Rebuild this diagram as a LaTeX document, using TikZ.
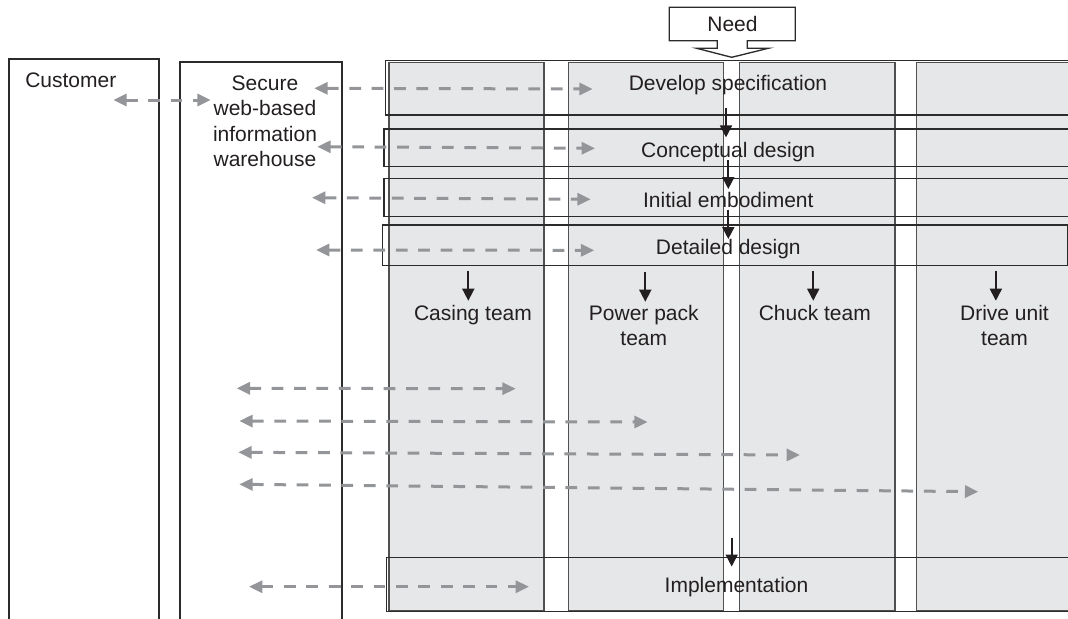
\documentclass[tikz,border=0pt]{standalone}
\usepackage{fontspec}
\setmainfont{Liberation Sans}
\usetikzlibrary{arrows.meta,fit}

\definecolor{inkgrey}{RGB}{35,31,32}
\definecolor{framegrey}{RGB}{43,43,43}
\definecolor{colgrey}{RGB}{80,80,80}
\definecolor{teamfill}{RGB}{230,231,232}
\definecolor{linkgrey}{RGB}{147,149,152}

\begin{document}
\begin{tikzpicture}[x=0.75pt,y=-0.75pt,
	every node/.style={inner sep=0pt,text=inkgrey,font=\fontsize{15.75pt}{19pt}\selectfont},
	column/.style={draw=colgrey,line width=1pt,fill=teamfill},
	stagebox/.style={draw=framegrey,line width=1.1pt},
	party/.style={draw=framegrey,line width=1.4pt},
	flow/.style={draw=inkgrey,line width=1.25pt,-{Triangle[length=9pt,width=9pt]}},
	link/.style={draw=linkgrey,line width=2.25pt,dash pattern=on 8.8pt off 8pt,{Triangle[length=10pt,width=9pt]}-{Triangle[length=10pt,width=9pt]}}]
	\useasboundingbox (0,0) rectangle (1068,618);
	\clip (0,0) rectangle (1068,618);

	\node[column,fit={(389,62.7) (544,611)}] (casecol) {};
	\node[column,fit={(568.3,62.7) (723.3,611)}] (powercol) {};
	\node[column,fit={(739.3,62.7) (895,611)}] (chuckcol) {};
	\node[column,fit={(916.7,62.7) (1075,611)}] (drivecol) {};

	\node[party,fit={(9,59) (159,640)}] (customerbox) {};
	\node[party,fit={(180,61.7) (341.7,640)}] (warehousebox) {};

	\node[stagebox,fit={(385.7,60.7) (1075,115)}] (spec) {};
	\node[stagebox,fit={(384,129) (1075,166.7)}] (concept) {};
	\node[stagebox,fit={(384,178.3) (1075,216.3)}] (embod) {};
	\node[stagebox,fit={(382.3,225) (1067.3,265.7)}] (detail) {};
	\node[stagebox,fit={(386.7,557.3) (1075,611.3)}] (impl) {};

	\draw[stagebox,line width=1pt,fill=white] (669.3,7.3) -- (795.3,7.3) -- (795.3,40.7) -- (747.3,40.7) -- (747.3,48.3) -- (768.3,48.3) -- (731.7,57.3) -- (696.7,48.3) -- (717.3,48.3) -- (717.3,40.7) -- (669.3,40.7) -- cycle;
	\node[anchor=base] (need) at (732.5,31.7) {Need};

	\node[anchor=base west] (customer) at (25,87.5) {Customer};
	\node[anchor=north,align=center] (warehouse) at (265,75.4) {Secure\\web-based\\information\\warehouse};

	\node[anchor=base] (spectxt) at (728,90) {Develop specification};
	\node[anchor=base] (concepttxt) at (728.2,157.3) {Conceptual design};
	\node[anchor=base] (embodtxt) at (728.3,207.3) {Initial embodiment};
	\node[anchor=base] (detailtxt) at (728.3,254) {Detailed design};
	\node[anchor=base] (impltxt) at (736.5,592.3) {Implementation};

	\node[anchor=base] (casing) at (473,320) {Casing team};
	\node[anchor=north,align=center] (power) at (643.8,304.7) {Power pack\\team};
	\node[anchor=base] (chuck) at (814.8,320) {Chuck team};
	\node[anchor=north,align=center] (drive) at (1004.5,304.7) {Drive unit\\team};

	\draw[flow] (spec.south) ++(-4.35,-7.3) -- ++(0,29);
	\draw[flow] (concept.south) ++(-1.2,-7.4) -- ++(0,29);
	\draw[flow] (embod.south) ++(-1.2,-7.3) -- ++(0,29.3);
	\draw[flow] (impl.north) ++(0.85,-19) -- ++(0,29);

	\draw[flow] (detail.south -| casecol) ++(1.8,5) -- ++(0,29.3);
	\draw[flow] (detail.south -| powercol) ++(-0.5,6) -- ++(0,29.3);
	\draw[flow] (detail.south -| chuckcol) ++(-3.9,5) -- ++(0,29.3);
	\draw[flow] (detail.south -| drivecol) ++(0,5) -- ++(0,29.3);

	\coordinate (cu) at (113.3,100);
	\coordinate (wh) at (210.7,100);
	\coordinate (w1) at (314.3,88.3);
	\coordinate (s1) at (592.7,89);
	\coordinate (w2) at (317.3,146.7);
	\coordinate (s2) at (595,148.3);
	\coordinate (w3) at (312,197.7);
	\coordinate (s3) at (590.7,199.3);
	\coordinate (w4) at (316,250);
	\coordinate (s4) at (594.3,250.3);
	\coordinate (w5) at (236.7,388.3);
	\coordinate (t5) at (515.7,388.7);
	\coordinate (w6) at (239.3,421);
	\coordinate (t6) at (647.7,422);
	\coordinate (w7) at (238.3,452.3);
	\coordinate (t7) at (800,455);
	\coordinate (w8) at (239.3,484.3);
	\coordinate (t8) at (978.3,491.7);
	\coordinate (w9) at (249,586.7);
	\coordinate (s9) at (529,586.7);

	\draw[link] (cu) -- (wh);
	\draw[link] (w1) -- (s1);
	\draw[link] (w2) -- (s2);
	\draw[link] (w3) -- (s3);
	\draw[link] (w4) -- (s4);
	\draw[link] (w5) -- (t5);
	\draw[link] (w6) -- (t6);
	\draw[link] (w7) -- (t7);
	\draw[link] (w8) -- (t8);
	\draw[link] (w9) -- (s9);
\end{tikzpicture}
\end{document}
